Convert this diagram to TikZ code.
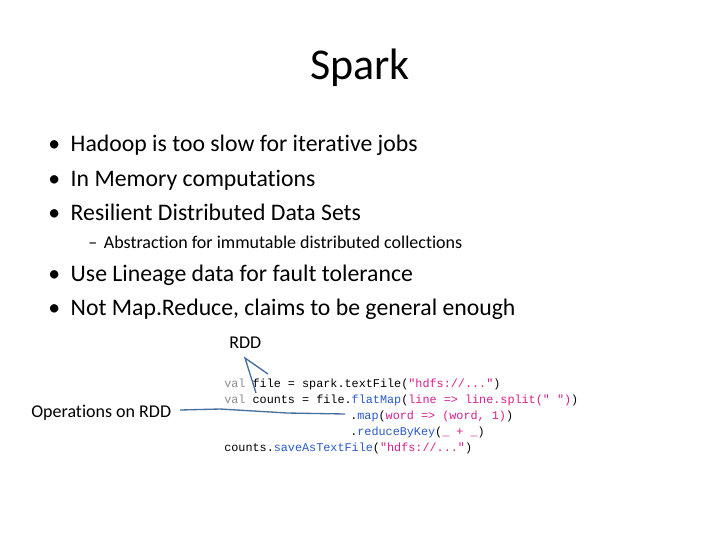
\documentclass[tikz,border=0pt]{standalone}
\usepackage{fontspec}
\setmainfont{Carlito}[Ligatures=NoCommon]
\newfontfamily\codefont{Liberation Mono}
\begin{document}
\begin{tikzpicture}[x=0.75pt,y=-0.75pt,
  txt/.style={anchor=base west,inner sep=0pt,font=\fontsize{17.8}{20}\selectfont},
  sub/.style={anchor=base west,inner sep=0pt,font=\fontsize{13.5}{15}\selectfont},
  code/.style={anchor=base west,inner sep=0pt,font=\codefont\fontsize{8.85}{10}\selectfont},
  conn/.style={line width=1pt}]
\definecolor{kw}{RGB}{140,140,140}
\definecolor{fn}{RGB}{40,90,200}
\definecolor{lam}{RGB}{215,30,140}
\definecolor{cx}{RGB}{70,110,160}
\useasboundingbox (0,0) rectangle (720,540);
\node[anchor=center,inner sep=0pt,font=\fontsize{33}{36}\selectfont] (title) at (360,68) {Spark};
\node[txt] (b1) at (48,151) {\textbullet\hspace{8pt}Hadoop is too slow for iterative jobs};
\node[txt] (b2) at (48,186) {\textbullet\hspace{8pt}In Memory computations};
\node[txt] (b3) at (48,220) {\textbullet\hspace{8pt}Resilient Distributed Data Sets};
\node[sub] (s1) at (88,248) {\textendash\hspace{5pt}Abstraction for immutable distributed collections};
\node[txt] (b4) at (48,281) {\textbullet\hspace{8pt}Use Lineage data for fault tolerance};
\node[txt] (b5) at (48,315) {\textbullet\hspace{8pt}Not Map.Reduce, claims to be general enough};
\node[anchor=base west,inner sep=0pt,font=\fontsize{13.5}{15}\selectfont] (rdd) at (229,348) {RDD};
\node[anchor=base west,inner sep=0pt,font=\fontsize{13.5}{15}\selectfont] (ops) at (31,417) {Operations on RDD};
\node[code] (c1) at (224,387) {\textcolor{kw}{val} file = spark.textFile(\textcolor{lam}{"hdfs://..."})};
\node[code] (c2) at (224,403) {\textcolor{kw}{val} counts = file.\textcolor{fn}{flatMap}(\textcolor{lam}{line => line.split(" ")})};
\node[code] (c3) at (350,419) {.\textcolor{fn}{map}(\textcolor{lam}{word => (word, 1)})};
\node[code] (c4) at (350,435) {.\textcolor{fn}{reduceByKey}(\textcolor{lam}{\_ + \_})};
\node[code] (c5) at (224,451) {counts.\textcolor{fn}{saveAsTextFile}(\textcolor{lam}{"hdfs://..."})};
\coordinate (tip) at (245,358);
\coordinate (a1) at (268,374);
\coordinate (a2) at (256,393);
\coordinate (o1) at (180,410);
\coordinate (o2) at (220,409);
\coordinate (o3) at (287,413);
\coordinate (o4) at (345,414);
\draw[conn,draw=cx] (a1) -- (tip) -- (a2);
\draw[conn,draw=cx] (o1) -- (o2) -- (o3) -- (o4);
\end{tikzpicture}
\end{document}
